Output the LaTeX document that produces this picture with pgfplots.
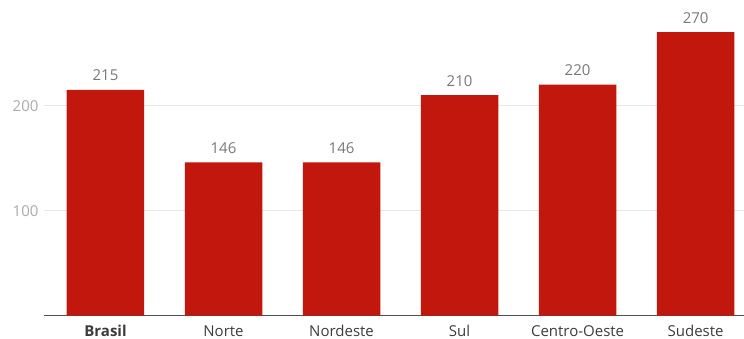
\documentclass[border=0pt]{standalone}
\usepackage{pgfplots}
\pgfplotsset{compat=1.18}
\usepackage{fontspec}
\setmainfont{Open Sans}
\definecolor{barred}{RGB}{193,23,12}
\definecolor{ticklbl}{RGB}{170,170,170}
\definecolor{vallbl}{RGB}{120,120,120}
\definecolor{catlbl}{RGB}{60,60,60}
\definecolor{gridc}{RGB}{230,230,230}
\definecolor{axisc}{RGB}{80,80,80}
\begin{document}
\begin{tikzpicture}
\begin{axis}[
  scale only axis,
  width=700pt, height=304.5pt,
  xmin=-0.521, xmax=5.41,
  ymin=0, ymax=290,
  axis x line*=bottom,
  axis y line*=left,
  y axis line style={draw=none},
  x axis line style={draw=axisc, line width=1.3pt},
  major tick length=0pt,
  ytick={100,200},
  ymajorgrids,
  grid style={draw=gridc, line width=0.8pt},
  xtick={0,1,2,3,4,5},
  xticklabels={\textbf{Brasil},Norte,Nordeste,Sul,Centro-Oeste,Sudeste},
  xticklabel style={font=\fontsize{15}{17}\selectfont, text=catlbl, text height=11pt, text depth=3pt, yshift=-6pt},
  yticklabel style={font=\fontsize{15}{17}\selectfont, text=ticklbl, xshift=-2pt},
  /pgf/number format/assume math mode=true,
  clip=false,
  nodes near coords,
  every node near coord/.append style={font=\fontsize{15}{17}\selectfont, text=vallbl, yshift=5.5pt},
]
\addplot[ybar, bar width=77.5pt, fill=barred, draw=none] coordinates {
  (0,215) (1,146) (2,146) (3,210) (4,220) (5,270)
};
\end{axis}
\pgfresetboundingbox
\path (current axis.south west) ++(-44pt,-23.3pt) rectangle ++(744pt,339pt);
\end{tikzpicture}
\end{document}
